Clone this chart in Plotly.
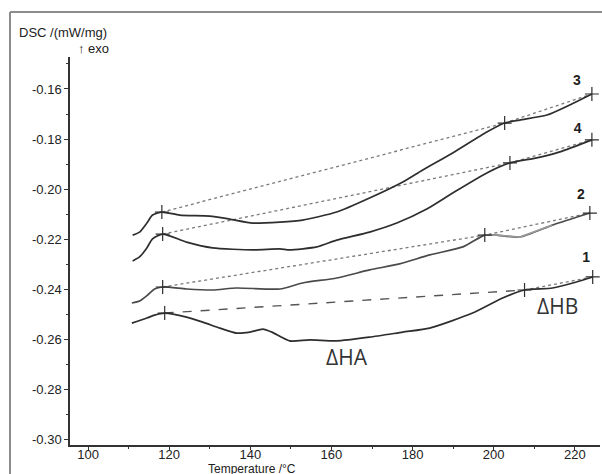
import plotly.graph_objects as go

# ---- data ----
t3 = [111.0, 112.7, 114.5, 115.9, 118.2, 122.6, 130.0, 134.9, 140.6, 147.3, 152.9, 161.3, 169.4, 177.6, 182.5, 189.9, 198.3, 202.7, 206.4, 213.1, 218.7, 224.2]
v3 = [-0.2183, -0.2171, -0.2135, -0.2103, -0.2091, -0.2103, -0.2107, -0.2119, -0.2135, -0.2131, -0.2123, -0.2091, -0.2035, -0.1971, -0.1923, -0.1855, -0.1772, -0.1736, -0.1724, -0.1704, -0.1664, -0.1620]

t4 = [111.0, 112.7, 114.5, 115.9, 118.4, 124.3, 130.7, 140.6, 147.3, 149.7, 156.4, 161.3, 169.4, 176.1, 183.5, 189.9, 198.3, 204.0, 210.6, 216.3, 224.2]
v4 = [-0.2286, -0.2270, -0.2234, -0.2198, -0.2179, -0.2211, -0.2234, -0.2242, -0.2238, -0.2242, -0.2230, -0.2203, -0.2171, -0.2135, -0.2079, -0.2015, -0.1935, -0.1895, -0.1875, -0.1851, -0.1803]

t2 = [110.8, 112.7, 114.7, 116.4, 118.4, 124.3, 130.7, 136.6, 147.3, 152.9, 161.3, 169.4, 176.8, 184.2, 192.4, 197.8, 200.7, 206.4, 214.5, 223.7]
v2 = [-0.2454, -0.2446, -0.2422, -0.2398, -0.2390, -0.2398, -0.2402, -0.2394, -0.2398, -0.2374, -0.2354, -0.2322, -0.2298, -0.2262, -0.2230, -0.2183, -0.2183, -0.2191, -0.2143, -0.2095]

t1 = [110.8, 114.5, 116.4, 118.9, 124.3, 128.3, 132.5, 136.6, 139.9, 143.1, 145.3, 149.7, 154.6, 161.3, 169.4, 177.6, 184.2, 194.8, 202.2, 207.6, 214.5, 220.4, 224.4]
v1 = [-0.2534, -0.2514, -0.2502, -0.2494, -0.2510, -0.2530, -0.2554, -0.2574, -0.2570, -0.2558, -0.2570, -0.2605, -0.2601, -0.2605, -0.2590, -0.2570, -0.2554, -0.2494, -0.2434, -0.2402, -0.2394, -0.2370, -0.2350]

# baseline limits (temperature, DSC value)
b3_t = [118.2, 202.7, 224.2]
b3_v = [-0.2091, -0.1736, -0.1620]
b4_t = [118.4, 204.0, 224.2]
b4_v = [-0.2179, -0.1895, -0.1803]
b2_t = [118.4, 197.8, 223.7]
b2_v = [-0.2390, -0.2183, -0.2095]
b1_t = [118.9, 207.6, 224.4]
b1_v = [-0.2494, -0.2402, -0.2350]

curve_labels = ["3", "4", "2", "1"]
label_t = [220.5, 220.7, 221.5, 222.8]
label_v = [-0.1570, -0.1762, -0.2025, -0.2276]

x_ticks = [100, 120, 140, 160, 180, 200, 220]
y_ticks = [-0.30, -0.28, -0.26, -0.24, -0.22, -0.20, -0.18, -0.16]

DARK = "#2e2e2e"
BASE = "#7a7a7a"

fig = go.Figure()

# baselines
for bt, bv in [(b3_t, b3_v), (b4_t, b4_v), (b2_t, b2_v)]:
    fig.add_trace(go.Scatter(x=bt, y=bv, mode="lines",
                             line=dict(color=BASE, width=1.3, dash="dot"),
                             hoverinfo="skip", showlegend=False))
fig.add_trace(go.Scatter(x=b1_t[:2], y=b1_v[:2], mode="lines",
                         line=dict(color="#555555", width=1.4, dash="dash"),
                         hoverinfo="skip", showlegend=False))
fig.add_trace(go.Scatter(x=b1_t[1:], y=b1_v[1:], mode="lines",
                         line=dict(color=BASE, width=1.3, dash="dot"),
                         hoverinfo="skip", showlegend=False))

# curves
for t, v, col in [(t3, v3, DARK), (t4, v4, DARK), (t2, v2, "#4a4a4a"), (t1, v1, DARK)]:
    fig.add_trace(go.Scatter(x=t, y=v, mode="lines",
                             line=dict(color=col, width=1.7, shape="spline", smoothing=0.6),
                             showlegend=False))

# lighter segment of curve 2 after its limit
i0 = t2.index(197.8)
fig.add_trace(go.Scatter(x=t2[i0:i0 + 4], y=v2[i0:i0 + 4], mode="lines",
                         line=dict(color="#9a9a9a", width=1.6),
                         hoverinfo="skip", showlegend=False))

# limit markers
for bt, bv in [(b3_t, b3_v), (b4_t, b4_v), (b2_t, b2_v), (b1_t, b1_v)]:
    fig.add_trace(go.Scatter(x=bt, y=bv, mode="markers",
                             marker=dict(symbol="cross-thin-open", size=10, color=DARK,
                                         line=dict(color=DARK, width=1.2)),
                             hoverinfo="skip", showlegend=False))

# curve number labels
fig.add_trace(go.Scatter(x=label_t, y=label_v, mode="text",
                         text=[f"<b>{s}</b>" for s in curve_labels],
                         textfont=dict(family="Liberation Sans, Arial", size=14, color="#1e1e1e"),
                         textposition="middle center", showlegend=False, hoverinfo="skip"))

fig.add_annotation(x=163.8, y=-0.2669, text="ΔHA", showarrow=False,
                   font=dict(family="Open Sans, Liberation Sans", size=21, color="#333333"))
fig.add_annotation(x=215.8, y=-0.2466, text="ΔHB", showarrow=False,
                   font=dict(family="Open Sans, Liberation Sans", size=21, color="#333333"))

# axis titles (as in the original software export)
fig.add_annotation(xref="paper", yref="paper", x=-0.100, y=1.062, xanchor="left", yanchor="middle",
                   text="DSC /(mW/mg)", showarrow=False,
                   font=dict(family="Liberation Sans, Arial", size=13, color="#222222"))
fig.add_annotation(xref="paper", yref="paper", x=0.012, y=1.021, xanchor="left", yanchor="middle",
                   text="↑ exo", showarrow=False,
                   font=dict(family="Liberation Sans, Arial", size=13, color="#222222"))
fig.add_annotation(xref="paper", yref="paper", x=0.343, y=-0.039, xanchor="center", yanchor="top",
                   text="Temperature /°C", showarrow=False,
                   font=dict(family="Liberation Sans, Arial", size=12, color="#222222"))

# outer frame lines (left and top)
fig.add_shape(type="line", xref="paper", yref="paper", x0=-0.1132, x1=-0.1132, y0=1.116, y1=-0.08,
              line=dict(color="#8c8c8c", width=2))
fig.add_shape(type="line", xref="paper", yref="paper", x0=-0.1132, x1=1.01, y0=1.116, y1=1.116,
              line=dict(color="#8c8c8c", width=2))

fig.update_xaxes(range=[95.56, 226.2], tickvals=x_ticks, ticktext=[str(v) for v in x_ticks],
                 showgrid=False, zeroline=False, showline=True, linecolor="#333333", linewidth=1.5,
                 ticks="outside", ticklen=3, tickcolor="#333333", ticklabelstandoff=-6,
                 minor=dict(ticks="outside", ticklen=2, dtick=10, tick0=100, tickcolor="#333333"),
                 tickfont=dict(family="Liberation Sans, Arial", size=13, color="#222222"))
fig.update_yaxes(range=[-0.30204, -0.14724], tickvals=y_ticks, ticktext=[f"{v:.2f}" for v in y_ticks],
                 showgrid=False, zeroline=False, showline=True, linecolor="#333333", linewidth=1.5,
                 ticks="outside", ticklen=4, tickcolor="#333333",
                 minor=dict(ticks="outside", ticklen=2, dtick=0.01, tick0=-0.30, tickcolor="#333333"),
                 tickfont=dict(family="Liberation Sans, Arial", size=13, color="#222222"))

fig.update_layout(width=602, height=474, margin=dict(l=70, r=2, t=57, b=29),
                  paper_bgcolor="white", plot_bgcolor="white")

fig.write_html("out.html")
